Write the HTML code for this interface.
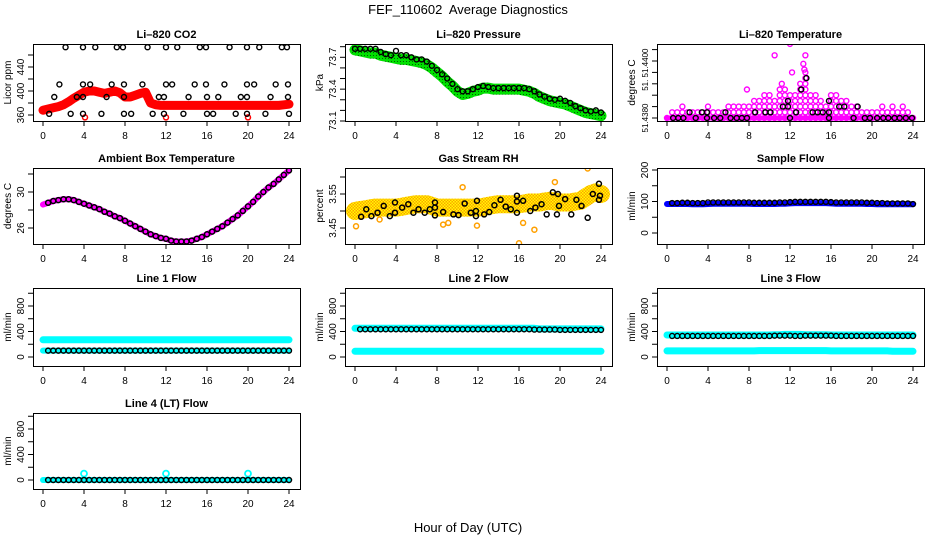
<!DOCTYPE html>
<html><head><meta charset="utf-8">
<style>
html,body{margin:0;padding:0;background:#fff;}
svg{display:block;font-family:"Liberation Sans",Arial,sans-serif;}
</style></head>
<body>
<svg id="chart" width="936" height="540" viewBox="0 0 936 540" xmlns="http://www.w3.org/2000/svg">
<defs>
<pattern id="chk" width="3" height="3" patternUnits="userSpaceOnUse">
<rect width="3" height="3" fill="#ffa000"/><rect width="1.5" height="1.5" fill="#ffff00"/><rect x="1.5" y="1.5" width="1.5" height="1.5" fill="#ffff00"/>
</pattern>
<pattern id="gchk" width="3" height="3" patternUnits="userSpaceOnUse">
<rect width="3" height="3" fill="#00e000"/><rect x="1" y="1" width="1" height="1" fill="#006000"/>
</pattern>
</defs>
<text x="468" y="14" text-anchor="middle" font-size="13" xml:space="preserve" style="white-space:pre">FEF_110602  Average Diagnostics</text>
<text x="468" y="532" text-anchor="middle" font-size="13">Hour of Day (UTC)</text>
</svg>
<script>
// ---- data ----
const HALF=[0,0.5,1,1.5,2,2.5,3,3.5,4,4.5,5,5.5,6,6.5,7,7.5,8,8.5,9,9.5,10,10.5,11,11.5,12,12.5,13,13.5,14,14.5,15,15.5,16,16.5,17,17.5,18,18.5,19,19.5,20,20.5,21,21.5,22,22.5,23,23.5,24];
const xTicks=[0,4,8,12,16,20,24];

const co2Red=[368,370,372,374,377,382,388,393,398,400,400,398,396,398,400,397,390,390,393,396,398,380,377,376,376,376,376,376,376,376,376,376,376,376,376,376,376,376,376,376,376,376,376,376,376,376,376,377,378];
const co2BlackHours=[2.2,3.9,5.1,7.2,7.8,10.2,12.0,13.1,15.3,15.9,18.2,19.9,21.1,23.3,23.8, 1.6,3.9,4.6,6.7,7.9,9.7,12.0,12.6,14.8,15.9,17.7,19.9,20.6,22.7,23.9, 1.1,3.3,3.9,6.2,7.9,11.3,11.8,14.2,16.0,17.1,19.3,19.9,22.2,23.9, 0.6,2.7,3.9,5.7,7.9,8.6,10.7,11.8,13.7,16.0,16.6,18.8,19.9,21.7,24.0];
const co2BlackValues=[473,473,473,473,473,473,473,473,473,473,473,473,473,473,473, 411,411,411,411,411,411,411,411,411,411,411,411,411,411,411, 390,390,390,390,390,390,390,390,390,390,390,390,390,390, 362,362,362,362,362,362,362,362,362,362,362,362,362,362,362];
const co2RedOutHours=[4.1,12.0,20.0];
const co2RedOutValues=[356,356,356];

const presGreen=[73.77,73.76,73.75,73.74,73.74,73.72,73.71,73.70,73.69,73.68,73.68,73.67,73.66,73.65,73.63,73.60,73.56,73.52,73.47,73.43,73.38,73.35,73.36,73.38,73.39,73.41,73.41,73.40,73.40,73.40,73.40,73.40,73.40,73.39,73.38,73.36,73.33,73.31,73.29,73.28,73.27,73.26,73.24,73.22,73.20,73.18,73.17,73.16,73.15];
const presBlack=[73.78,73.78,73.78,73.78,73.78,73.75,73.73,73.72,73.76,73.72,73.72,73.70,73.68,73.68,73.66,73.62,73.58,73.54,73.50,73.45,73.40,73.38,73.38,73.40,73.42,73.43,73.42,73.41,73.41,73.41,73.41,73.41,73.41,73.41,73.40,73.38,73.35,73.33,73.31,73.30,73.31,73.29,73.27,73.24,73.22,73.20,73.19,73.20,73.18];

const tempBaseHours=HALF;
const tempUpper=[0,2,2,4,2,2,2,2,4,2,2,2,4,4,4,4,4,6,6,8,8,6,10,10,8,8,12,16,8,8,6,4,8,8,6,6,4,4,2,2,2,2,4,2,4,2,4,2,0];
const tempPinkOutHours=[10.5,12.0,12.2,13.5,13.3,13.4,7.8,11.2];
const tempPinkOutValues=[22,26,16,22,19,17,10,12];
const tempBlackHours=[0.6,1.1,1.6,2.8,3.9,4.6,5.2,6.2,6.8,7.3,7.8,12,15.8,18.2,19.3,19.8,20.5,21.1,21.6,22.2,22.7,23.3,23.9,2.2,3.4,3.9,5.7,8.6,9.6,10.1,12.6,14.2,14.7,15.2,15.8,11.3,11.8,16.8,17.3,18.6,11.8,15.8,13.1,13.6];
const tempBlackValues=[0,0,0,0,0,0,0,0,0,0,0,0,0,0,0,0,0,0,0,0,0,0,0,2,2,2,2,2,2,2,2,2,2,2,2,4,4,4,4,4,6,6,10,14];

const ambPink=[28.6,28.8,29.0,29.1,29.2,29.2,29.1,28.9,28.7,28.5,28.3,28.1,27.8,27.6,27.3,27.1,26.8,26.5,26.2,25.9,25.6,25.3,25.1,24.9,24.8,24.6,24.5,24.5,24.5,24.6,24.8,25.0,25.3,25.6,25.9,26.2,26.6,27.0,27.4,27.9,28.4,28.9,29.5,30.0,30.5,30.9,31.4,31.9,32.4];

const rhBand=[3.50,3.503,3.505,3.508,3.51,3.51,3.51,3.51,3.51,3.512,3.515,3.518,3.52,3.52,3.52,3.515,3.51,3.51,3.51,3.51,3.51,3.51,3.51,3.51,3.51,3.512,3.515,3.518,3.52,3.52,3.52,3.52,3.52,3.522,3.525,3.525,3.525,3.528,3.53,3.528,3.525,3.525,3.525,3.528,3.53,3.54,3.55,3.555,3.55];
const rhBlackHours=[0.6,1.1,1.6,2.2,2.8,3.4,3.9,3.9,4.6,5.2,5.7,6.2,6.8,7.3,7.8,7.8,7.8,8.6,9.6,10.1,10.7,11.3,11.8,11.8,11.9,12.6,13.1,13.6,14.2,14.7,15.2,15.8,15.8,15.8,16.4,17.1,17.6,18.2,18.7,19.3,19.7,19.8,19.9,20.5,21.1,21.6,22.1,22.7,23.2,23.8,23.9,23.8];
const rhBlackValues=[3.483,3.505,3.485,3.495,3.515,3.485,3.525,3.495,3.51,3.52,3.495,3.505,3.495,3.505,3.525,3.51,3.487,3.497,3.49,3.488,3.522,3.495,3.485,3.50,3.53,3.49,3.497,3.517,3.533,3.513,3.505,3.545,3.528,3.495,3.53,3.50,3.51,3.52,3.49,3.555,3.49,3.55,3.515,3.535,3.49,3.533,3.515,3.48,3.55,3.58,3.545,3.533];
const rhOutHours=[0.1,2.4,8.6,9.1,11.9,16.0,16.4,17.5,22.7,19.5,10.5];
const rhOutValues=[3.455,3.475,3.46,3.465,3.457,3.405,3.465,3.445,3.625,3.585,3.57];

const sfBlue=[92,92,92,92,92,91,91,91,92,93,93,93,93,93,93,93,93,92,92,92,92,92,93,93,94,95,95,95,95,95,95,95,94,93,93,93,93,93,93,92,92,91,91,91,91,91,91,91,91];
const sfBlack=[95,95,95,96,96,95,95,95,97,97,97,97,97,97,97,97,97,96,96,96,96,96,97,97,98,99,99,99,99,99,99,99,98,97,97,97,97,97,97,96,96,95,95,94,94,94,94,94,92];

const l1Cyan=[270,270,270,270,270,270,270,270,270,270,270,270,270,270,270,270,270,270,270,270,270,270,270,270,270,270,270,270,270,270,270,270,270,270,270,270,270,270,270,270,270,270,270,270,270,270,270,270,270];
const l1CyanLow=[100,100,100,100,100,100,100,100,100,100,100,100,100,100,100,100,100,100,100,100,100,100,100,100,100,100,100,100,100,100,100,100,100,100,100,100,100,100,100,100,100,100,100,100,100,100,100,100,100];
const l1Black=[100,100,100,100,100,100,100,100,100,100,100,100,100,100,100,100,100,100,100,100,100,100,100,100,100,100,100,100,100,100,100,100,100,100,100,100,100,100,100,100,100,100,100,100,100,100,100,100,100];
const l2Cyan=[450,450,450,450,450,450,450,450,450,450,450,450,450,450,450,450,450,450,450,450,450,450,450,450,450,450,450,450,450,450,450,450,450,450,450,450,440,440,440,440,440,440,440,440,440,440,440,440,440];
const l2CyanLow=[90,90,90,90,90,90,90,90,90,90,90,90,90,90,90,90,90,90,90,90,90,90,90,90,90,90,90,90,90,90,90,90,90,90,90,90,90,90,90,90,90,90,90,90,90,90,90,90,90];
const l2Black=[435,435,435,435,435,435,435,435,435,435,435,435,435,435,435,435,435,435,435,435,435,435,435,435,435,435,435,435,435,435,435,435,435,435,435,430,430,430,430,430,425,425,425,425,425,425,425,425,425];
const l3Cyan=[345,345,345,345,345,345,345,345,345,345,345,345,345,345,345,345,345,345,345,345,345,350,350,355,355,355,355,350,350,350,350,350,345,345,345,345,345,345,345,345,345,345,345,345,345,345,345,345,345];
const l3CyanLow=[95,95,95,95,95,95,95,95,95,95,95,95,95,95,95,95,95,95,100,100,100,100,100,100,100,100,100,100,100,100,100,100,95,95,95,95,95,95,95,95,95,95,95,95,90,90,90,90,90];
const l3Black=[330,330,330,330,330,330,330,330,330,330,330,330,330,330,330,330,330,330,330,330,330,335,335,335,335,330,330,335,335,335,335,335,335,330,330,330,330,330,330,330,330,330,330,330,330,330,330,330,330];
const l4Cyan=[0,0,0,0,0,0,0,0,0,0,0,0,0,0,0,0,0,0,0,0,0,0,0,0,0,0,0,0,0,0,0,0,0,0,0,0,0,0,0,0,0,0,0,0,0,0,0,0,0];
const l4Black=[0,0,0,0,0,0,0,0,0,0,0,0,0,0,0,0,0,0,0,0,0,0,0,0,0,0,0,0,0,0,0,0,0,0,0,0,0,0,0,0,0,0,0,0,0,0,0,0,0];
const l4SpikeHours=[4,12,20];
const l4SpikeValues=[100,100,100];

// ---- drawing ----
const NS='http://www.w3.org/2000/svg';
const svg=document.getElementById('chart');
const ROWT=[44,168,288,413], ROWB=[121,244,366,489];
function mk(tag,attrs,parent){const e=document.createElementNS(NS,tag);for(const k in attrs)e.setAttribute(k,attrs[k]);(parent||svg).appendChild(e);return e;}

function panel(o){
  const L=33+312*o.col, R=300+312*o.col, T=ROWT[o.row], B=ROWB[o.row];
  const g=mk('g',{});
  
  
  const sx=h=>L+10+h*(246/24);
  const sy=v=>o.y[1]+(v-o.y[0])*(o.y[3]-o.y[1])/(o.y[2]-o.y[0]);
  const t=mk('text',{x:(L+R)/2,y:T-6,'text-anchor':'middle','font-size':'11','font-weight':'bold'},g);
  t.textContent=o.title;
  
  
  const plot=mk('g',{},g);
  
  
  const cp='cp'+o.col+o.row;
  const c=mk('clipPath',{id:cp},g); mk('rect',{x:L,y:T,width:R-L,height:B-T},c);
  plot.setAttribute('clip-path','url(#'+cp+')');
  const xa=mk('g',{stroke:'#000','stroke-width':1},g);
  
  
  mk('line',{x1:sx(xTicks[0]),x2:sx(xTicks[xTicks.length-1]),y1:B+0.5,y2:B+0.5},xa);
  xTicks.forEach(h=>{mk('line',{x1:sx(h),x2:sx(h),y1:B,y2:B+5},xa);
    const tx=mk('text',{x:sx(h),y:B+18,'text-anchor':'middle','font-size':'10',stroke:'none'},xa);tx.textContent=h;
    
    });
  const ya=mk('g',{stroke:'#000','stroke-width':1},g);
  
  
  mk('line',{x1:L+0.5,x2:L+0.5,y1:sy(o.ticks[0]),y2:sy(o.ticks[o.ticks.length-1])},ya);
  o.ticks.forEach(v=>mk('line',{x1:L-5,x2:L,y1:sy(v),y2:sy(v)},ya));
  const lfs=o.labelSize||10;
  o.labels.forEach((lb,i)=>{const yy=sy(o.labelVals[i]);
    const tx=mk('text',{x:0,y:0,transform:`translate(${L-9},${yy}) rotate(-90)`,'text-anchor':'middle','font-size':lfs,stroke:'none'},ya);tx.textContent=lb;
    
    });
  const yt=mk('text',{x:0,y:0,transform:`translate(${L-22},${(T+B)/2}) rotate(-90)`,'text-anchor':'middle','font-size':'10'},g);
  yt.textContent=o.ylab;
  
  
  mk('rect',{x:L+0.5,y:T+0.5,width:R-L,height:B-T,fill:'none',stroke:'#000','stroke-width':1},g);
  return {sx,sy,plot};
}
function band(p,hours,vals,color,w,name){
  const pts=hours.map((h,i)=>p.sx(h).toFixed(1)+','+p.sy(vals[i]).toFixed(1)).join(' ');
  const e=mk('polyline',{points:pts,fill:'none',stroke:color,'stroke-width':w,'stroke-linejoin':'round','stroke-linecap':'round'},p.plot);
  
  
}
function pts(p,hours,vals,color,r,sw,name){
  const g=mk('g',{fill:'none',stroke:color,'stroke-width':sw},p.plot);
  
  
  hours.forEach((h,i)=>{const e=mk('circle',{cx:p.sx(h),cy:p.sy(vals[i]),r:r},g);
    
    });
}
const flowT=[0,200,400,600,800,1000];

let p=panel({name:'co2-panel',col:0,row:0,title:'Li–820 CO2',ylab:'Licor ppm',y:[360,115,440,67],ticks:[360,380,400,420,440,460],labels:['360','400','440'],labelVals:[360,400,440]});
band(p,HALF,co2Red,'#ff0000',9,'co2-band');
pts(p,HALF,co2Red,'#ff0000',2.5,1.5,'co2-red-points');
pts(p,co2RedOutHours,co2RedOutValues,'#ff0000',2.5,1.5,'co2-red-outliers');
pts(p,co2BlackHours,co2BlackValues,'#000',2.5,1.4,'co2-black-points');

p=panel({name:'pressure-panel',col:1,row:0,title:'Li–820 Pressure',ylab:'kPa',y:[73.7,57.3,73.1,121],ticks:[73.1,73.2,73.3,73.4,73.5,73.6,73.7,73.8],labels:['73.1','73.4','73.7'],labelVals:[73.1,73.4,73.7]});
band(p,HALF,presGreen,'url(#gchk)',11,'pressure-band');
pts(p,HALF,presBlack,'#000',2.5,1.4,'pressure-black-points');

p=panel({name:'temperature-panel',col:2,row:0,title:'Li–820 Temperature',ylab:'degrees C',y:[0,118,20,61],ticks:[0,4,8,12,16,20,24],labels:['51.4380','51.','51.4400'],labelVals:[0,11.5,19.3],labelSize:8});
{const hh=[],vv=[];tempBaseHours.forEach((h,i)=>{for(let l=0;l<=tempUpper[i];l+=2){hh.push(h);vv.push(l);}});
 band(p,HALF,HALF.map(()=>0),'#ff00ff',5,'temperature-base-band');
 pts(p,hh,vv,'#ff00ff',2.5,1.4,'temperature-pink-points');}
pts(p,tempPinkOutHours,tempPinkOutValues,'#ff00ff',2.5,1.4,'temperature-pink-outliers');
pts(p,tempBlackHours,tempBlackValues,'#000',2.5,1.4,'temperature-black-points');

p=panel({name:'ambient-panel',col:0,row:1,title:'Ambient Box Temperature',ylab:'degrees C',y:[26,228,30,192],ticks:[26,28,30,32],labels:['26','30'],labelVals:[26,30]});
band(p,HALF,ambPink,'#ff00ff',6,'ambient-band');
pts(p,HALF.slice(1),ambPink.slice(1),'#000',2.5,1.5,'ambient-black-points');

p=panel({name:'rh-panel',col:1,row:1,title:'Gas Stream RH',ylab:'percent',y:[3.45,228,3.55,194],ticks:[3.45,3.50,3.55,3.60],labels:['3.45','3.55'],labelVals:[3.45,3.55]});
band(p,HALF,rhBand,'url(#chk)',18,'rh-band');
pts(p,rhOutHours,rhOutValues,'#ffa000',2.5,1.5,'rh-outliers');
pts(p,rhBlackHours,rhBlackValues,'#000',2.5,1.5,'rh-black-points');

p=panel({name:'sample-flow-panel',col:2,row:1,title:'Sample Flow',ylab:'ml/min',y:[0,233,200,170],ticks:[0,50,100,150,200],labels:['0','100','200'],labelVals:[0,100,200]});
band(p,HALF,sfBlue,'#0000ff',6,'sample-flow-band');
pts(p,HALF.slice(1),sfBlack.slice(1),'#000',2.5,1.4,'sample-flow-black-points');

p=panel({name:'line1-panel',col:0,row:2,title:'Line 1 Flow',ylab:'ml/min',y:[0,357,800,306],ticks:flowT,labels:['0','400','800'],labelVals:[0,400,800]});
band(p,HALF,l1Cyan,'#00ffff',7,'line1-cyan-band');
band(p,HALF,l1CyanLow,'#00ffff',6,'line1-cyan-low-band');
pts(p,HALF.slice(1),l1Black.slice(1),'#000',2.5,1.4,'line1-black-points');

p=panel({name:'line2-panel',col:1,row:2,title:'Line 2 Flow',ylab:'ml/min',y:[0,357,800,306],ticks:flowT,labels:['0','400','800'],labelVals:[0,400,800]});
band(p,HALF,l2Cyan,'#00ffff',7,'line2-cyan-band');
band(p,HALF,l2CyanLow,'#00ffff',7,'line2-cyan-low-band');
pts(p,HALF.slice(1),l2Black.slice(1),'#000',2.5,1.4,'line2-black-points');

p=panel({name:'line3-panel',col:2,row:2,title:'Line 3 Flow',ylab:'ml/min',y:[0,357,800,306],ticks:flowT,labels:['0','400','800'],labelVals:[0,400,800]});
band(p,HALF,l3Cyan,'#00ffff',7,'line3-cyan-band');
band(p,HALF,l3CyanLow,'#00ffff',7,'line3-cyan-low-band');
pts(p,HALF.slice(1),l3Black.slice(1),'#000',2.5,1.4,'line3-black-points');

p=panel({name:'line4-panel',col:0,row:3,title:'Line 4 (LT) Flow',ylab:'ml/min',y:[0,480,800,429],ticks:flowT,labels:['0','400','800'],labelVals:[0,400,800]});
band(p,HALF,l4Cyan,'#00ffff',6,'line4-cyan-band');
pts(p,l4SpikeHours,l4SpikeValues,'#00ffff',3,1.8,'line4-cyan-spikes');
pts(p,HALF.slice(1),l4Black.slice(1),'#000',2.5,1.5,'line4-black-points');
</script>
</body></html>
